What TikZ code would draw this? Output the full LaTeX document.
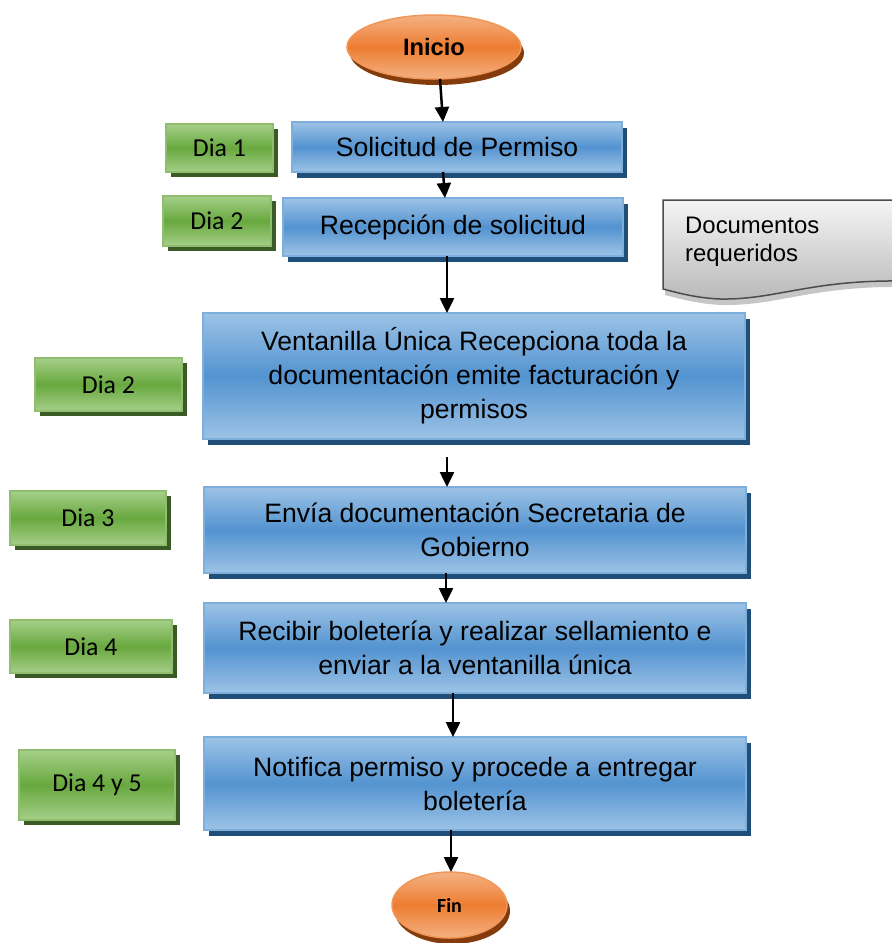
\documentclass[tikz,border=0pt]{standalone}
\usepackage{fontspec}
\setmainfont{Liberation Sans}
\newfontfamily\calibri{Carlito}
\usetikzlibrary{arrows.meta, shapes.geometric, shadows}

\definecolor{azulclaro}{HTML}{9DC3E6}
\definecolor{azul}{HTML}{5393D0}
\definecolor{azulsombra}{HTML}{1F4E79}
\definecolor{verdeclaro}{HTML}{A5CF89}
\definecolor{verde}{HTML}{68A83E}
\definecolor{verdesombra}{HTML}{3A5A26}
\definecolor{naranjaclaro}{HTML}{F4B183}
\definecolor{naranja}{HTML}{ED7D31}
\definecolor{naranjasombra}{HTML}{843C0C}

\begin{document}
\begin{tikzpicture}[x=1pt, y=-1pt, > = {Triangle[length=15pt,width=14pt]}]

\tikzstyle{paso} = [rectangle, draw=azul!75!white, line width=2pt,
                    top color=azulclaro, bottom color=azulclaro, middle color=azul,
                    drop shadow={shadow xshift=5pt, shadow yshift=-6pt, fill=azulsombra, opacity=1},
                    inner sep=0pt, outer sep=0pt, align=center,
                    font=\fontsize{26.6}{34}\selectfont]
\tikzstyle{dia} = [rectangle, draw=verde!75!white, line width=2pt,
                   top color=verdeclaro, bottom color=verdeclaro, middle color=verde,
                   drop shadow={shadow xshift=5pt, shadow yshift=-5pt, fill=verdesombra, opacity=1},
                   inner sep=0pt, outer sep=0pt,
                   font=\calibri\fontsize{25.8}{30}\selectfont]
\tikzstyle{extremo} = [ellipse, draw=naranja!80!white, line width=1.5pt,
                       top color=naranjaclaro, bottom color=naranjaclaro, middle color=naranja,
                       drop shadow={shadow xshift=3pt, shadow yshift=-6pt, fill=naranjasombra, opacity=1},
                       inner sep=0pt, outer sep=0pt]
\tikzstyle{flecha} = [->, line width=2.5pt, black]

\useasboundingbox (0,0) rectangle (892,943);

    % start and end
    \node[extremo, minimum width=174pt, minimum height=64pt,
          font=\bfseries\fontsize{23.7}{28}\selectfont] (inicio) at (434,47) {Inicio};
    \node[extremo, minimum width=115pt, minimum height=66pt,
          font=\calibri\bfseries\fontsize{20}{24}\selectfont] (fin) at (449.5,905) {Fin};

    % process steps
    \node[paso, minimum width=330pt, minimum height=50pt] (sol) at (457,147) {Solicitud de Permiso};
    \node[paso, minimum width=340pt, minimum height=58pt] (rec) at (453,227) {Recepción de solicitud};
    \node[paso, minimum width=542pt, minimum height=126pt] (ven) at (474,376)
          {Ventanilla Única Recepciona toda la\\documentación emite facturación y\\permisos};
    \node[paso, minimum width=542pt, minimum height=86pt] (env) at (475,530)
          {Envía documentación Secretaria de\\Gobierno};
    \node[paso, minimum width=542pt, minimum height=90pt] (rcb) at (475,648)
          {Recibir boletería y realizar sellamiento e\\enviar a la ventanilla única};
    \node[paso, minimum width=542pt, minimum height=93pt] (noti) at (475,783.5)
          {Notifica permiso y procede a entregar\\boletería};

    % day labels
    \foreach \n/\x/\y/\w/\h/\t in {dia1/219.5/148/107/48/Dia 1,
                                   dia2/217/221/108/50/Dia 2,
                                   dia3/108.5/384.5/147/53/Dia 2,
                                   dia4/88/518/156/54/Dia 3,
                                   dia5/91/646.5/162/53/Dia 4,
                                   dia6/97/785/156/70/Dia 4 y 5}
        \node[dia, minimum width=\w pt, minimum height=\h pt] (\n) at (\x,\y) {\t};

    % document shape
    \path[draw=gray!60!black, line width=1.5pt, top color=gray!8, bottom color=gray!55,
          drop shadow={shadow xshift=2pt, shadow yshift=-6pt, fill=gray!45, opacity=1}]
        (663,200) -- (900,200) -- (900,281)
        .. controls (810,280) and (775,300) .. (720,299)
        .. controls (695,298) and (675,292) .. (663,289) -- cycle;
    \node[anchor=west, align=left, inner sep=0pt,
          font=\fontsize{23.9}{28}\selectfont] (docs) at (685,242) {Documentos\\requeridos};

    % connectors
    \draw[flecha] ([xshift=6pt]inicio.south) -- ([xshift=-14pt]sol.north);
    \draw[flecha] ([xshift=-14pt]sol.south) -- ([xshift=-8pt]rec.north);
    \draw[flecha] ([xshift=-6pt]rec.south) -- ([xshift=-27pt]ven.north);
    \draw[flecha] ([xshift=-27pt,yshift=-18pt]ven.south) -- ([xshift=-28pt]env.north);
    \draw[flecha] ([xshift=-29pt]env.south) -- ([xshift=-29pt]rcb.north);
    \draw[flecha] ([xshift=-22pt]rcb.south) -- ([xshift=-22pt]noti.north);
    \draw[flecha] ([xshift=-24pt]noti.south) -- ([xshift=1.5pt]fin.north);

\end{tikzpicture}
\end{document}
